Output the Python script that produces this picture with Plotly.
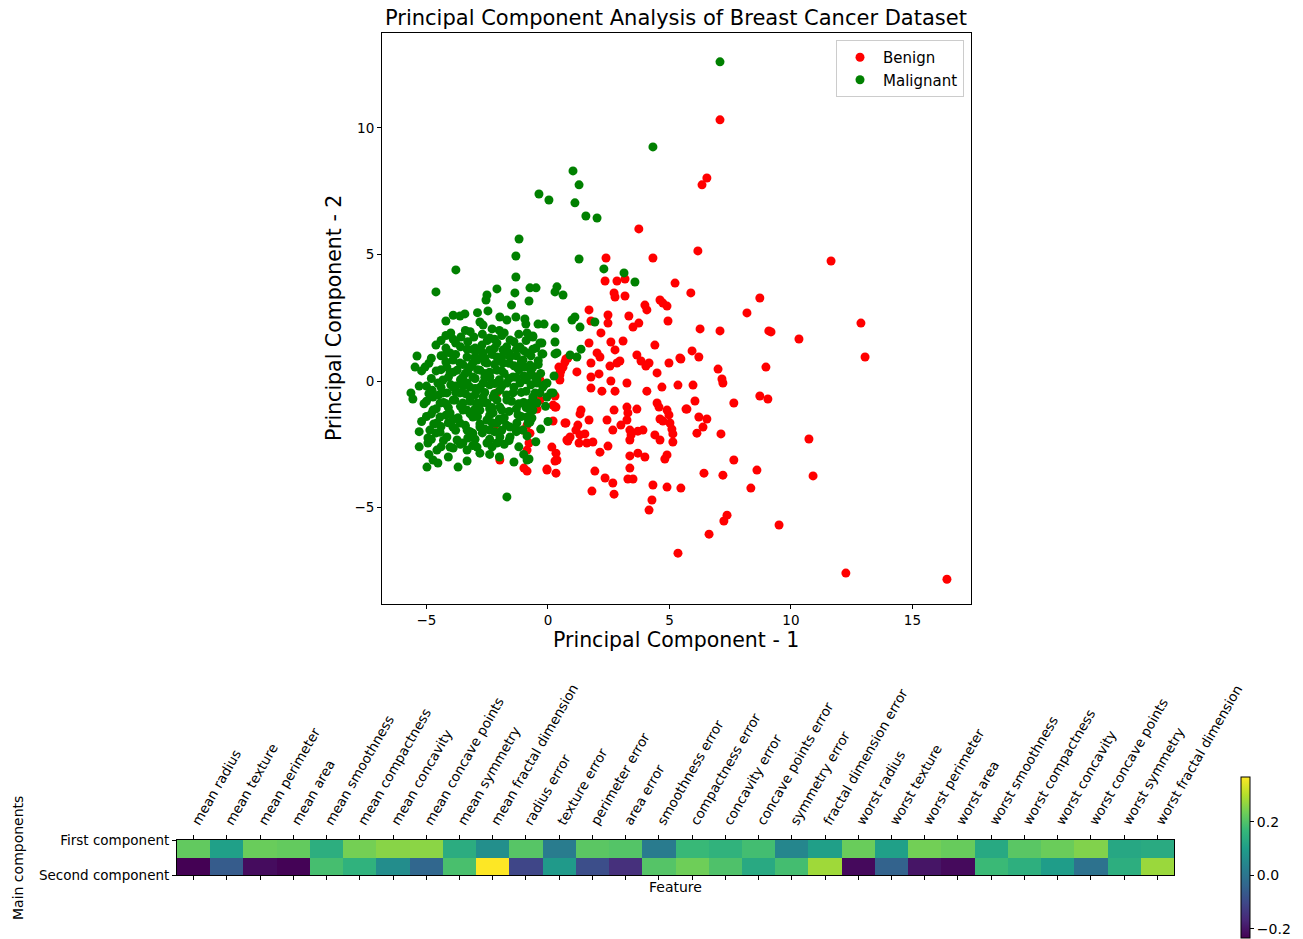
import plotly.graph_objects as go

# ---- PCA scores (PC1, PC2) per class ----
benign_points = [
    (7.08, 10.32), (6.54, 8.02), (6.34, 7.75), (3.74, 6.01), (6.17, 5.14), (2.39, 4.86), (4.32, 4.86),
    (11.65, 4.74), (2.35, 3.95), (2.84, 3.95), (3.17, 4.03), (5.23, 3.87), (5.88, 3.48), (2.72, 3.48),
    (2.76, 3.32), (3.17, 3.36), (3.99, 3.00), (4.07, 2.81), (4.61, 3.20), (4.73, 3.08), (4.90, 2.96),
    (1.69, 2.81), (2.47, 2.61), (1.77, 2.37), (2.47, 2.29), (3.33, 2.57), (3.74, 2.29), (3.50, 2.13),
    (4.94, 2.37), (6.26, 2.06), (2.18, 1.90), (1.69, 1.50), (2.59, 1.54), (3.09, 1.58), (2.76, 1.23),
    (4.40, 1.42), (2.02, 1.11), (2.14, 0.95), (3.66, 1.03), (3.83, 0.79), (4.03, 0.59), (4.16, 0.71),
    (5.43, 0.91), (5.93, 1.19), (6.21, 0.95), (4.98, 0.71), (7.00, 0.47), (0.82, 0.91), (0.70, 0.75),
    (0.62, 0.55), (0.53, 0.40), (0.49, 0.24), (1.19, 0.36), (1.77, 0.71), (2.55, 0.59), (2.84, 0.71),
    (2.96, 0.79), (2.10, 0.28), (1.77, 0.16), (4.49, 0.32), (3.25, -0.08), (2.59, 0.00), (1.77, -0.28),
    (2.22, -0.40), (2.76, -0.40), (4.07, -0.40), (4.69, -0.24), (5.35, -0.16), (5.97, -0.16),
    (0.29, -0.59), (0.29, -1.03), (1.36, -1.15), (1.32, -1.30), (2.72, -1.15), (3.25, -1.03),
    (3.29, -1.26), (3.66, -1.11), (4.49, -0.87), (4.57, -1.03), (4.90, -1.15), (4.98, -1.34),
    (4.61, -1.50), (4.73, -1.58), (5.02, -1.66), (5.10, -1.90), (5.14, -2.09), (5.72, -1.11),
    (6.05, -0.79), (6.21, -1.42), (6.54, -1.50), (6.38, -1.82), (6.13, -2.06), (0.21, -1.58),
    (0.74, -1.66), (1.69, -1.54), (2.43, -1.54), (1.23, -1.74), (1.15, -1.94), (1.32, -2.13),
    (0.91, -2.21), (0.82, -2.37), (1.28, -2.45), (1.60, -2.45), (1.85, -2.41), (1.52, -2.09),
    (2.67, -1.94), (3.00, -1.74), (3.25, -1.54), (3.37, -1.94), (3.42, -2.13), (3.37, -2.33),
    (3.70, -1.98), (3.91, -1.94), (4.40, -2.13), (4.61, -2.33), (5.14, -2.41), (2.14, -2.81),
    (2.47, -2.57), (3.37, -2.96), (3.70, -2.85), (3.99, -3.00), (4.90, -2.92), (4.81, -3.08),
    (0.33, -2.85), (0.29, -3.16), (-0.04, -3.52), (0.33, -3.64), (1.93, -3.56), (2.35, -3.83),
    (2.67, -4.03), (3.37, -3.44), (3.29, -3.87), (3.50, -3.87), (4.32, -4.11), (4.90, -4.19),
    (5.47, -4.23), (6.42, -3.64), (1.81, -4.35), (2.72, -4.47), (4.28, -4.70), (4.16, -5.10),
    (-1.03, -1.94), (-0.78, -2.45), (-0.86, -2.73), (-0.99, -3.44), (-0.86, -3.56), (0.45, 0.55),
    (0.74, 0.87), (0.49, 0.32), (0.49, 0.04), (-0.45, 0.16), (-0.33, 0.04), (-2.10, -0.47),
    (0.21, -0.95), (0.33, -1.03), (-0.33, -0.75), (-0.45, -1.11), (0.70, -1.66), (-0.86, -1.74),
    (-0.74, -2.06), (-2.18, -1.94), (-1.98, -3.12), (-0.04, -3.48), (0.37, -3.12), (0.78, -2.33),
    (0.16, -2.61), (8.72, 3.28), (8.19, 2.69), (7.08, 1.98), (9.09, 1.98), (9.18, 1.94),
    (10.33, 1.66), (12.88, 2.29), (13.05, 0.95), (5.47, 0.87), (8.97, 0.55), (7.16, 0.08),
    (7.20, -0.08), (8.72, -0.59), (9.05, -0.71), (7.65, -0.87), (5.68, -1.11), (7.12, -2.09),
    (10.74, -2.29), (7.65, -3.12), (7.20, -3.72), (8.60, -3.52), (10.91, -3.75), (8.35, -4.23),
    (7.37, -5.30), (7.24, -5.53), (9.51, -5.69), (6.63, -6.05), (5.35, -6.80), (12.26, -7.59),
    (16.42, -7.83),
]

malignant_points = [
    (7.08, 12.61), (4.32, 9.25), (1.03, 8.30), (1.28, 7.75), (-0.37, 7.39), (0.04, 7.15), (1.11, 7.04),
    (1.56, 6.52), (2.02, 6.44), (1.28, 4.82), (2.30, 4.43), (3.13, 4.27), (3.58, 3.91), (-1.19, 5.61),
    (-1.32, 4.94), (-3.79, 4.39), (-1.32, 4.11), (-4.61, 3.52), (-2.10, 3.64), (-2.51, 3.40),
    (-2.55, 3.20), (-1.36, 3.48), (-0.74, 3.68), (-0.49, 3.68), (-0.78, 3.16), (0.37, 3.72),
    (0.29, 3.52), (0.62, 3.40), (-2.47, 2.77), (-2.80, 2.33), (-3.42, 2.65), (-3.62, 2.57),
    (-4.20, 2.37), (-1.98, 2.53), (-1.69, 2.41), (-1.32, 2.53), (-0.95, 2.45), (-0.91, 2.25),
    (-0.41, 2.25), (-0.16, 2.25), (0.29, 2.09), (-2.30, 2.06), (-2.67, 2.21), (0.99, 2.41),
    (1.11, 2.53), (1.32, 2.13), (1.93, 2.33), (-0.62, 1.78), (-0.33, 1.50), (0.29, 1.54),
    (1.36, 1.26), (0.91, 1.03), (1.19, 0.95), (-0.25, 1.07), (0.29, 1.07), (-0.74, 0.63),
    (-0.95, 0.55), (0.25, 0.20), (-0.53, 0.16), (-0.45, -0.08), (-0.16, -0.16), (0.12, -0.47),
    (-0.53, -0.47), (-0.62, -0.87), (-0.74, -1.15), (-0.86, -1.42), (-0.74, -1.62), (-0.86, -2.17),
    (-0.78, -3.08), (-1.69, -4.58), (-5.39, 0.99), (-5.47, 0.55), (-5.06, 0.55), (-4.61, 1.42),
    (-5.64, -0.47), (-5.56, -0.71),
    (-3.58, 1.74), (-3.05, 1.74), (-2.72, 1.42), (-4.03, 1.11), (-3.91, 0.83), (-3.33, 1.26),
    (-2.10, 1.50), (-1.56, 1.62), (-0.86, 1.90), (-0.62, 1.74), (-0.25, 1.50), (0.37, 1.11),
    (-0.21, 1.07), (-0.62, 1.26), (-1.03, 0.83), (-1.28, 0.55), (-0.62, 0.55), (-0.86, 0.16),
    (-0.45, 0.04), (-0.04, -0.08), (0.21, -0.47), (-0.21, -0.24), (-0.62, -0.63), (-0.74, -0.87),
    (-0.62, -1.15), (-1.23, -1.34), (-1.28, -1.66), (-1.56, -1.82), (-1.85, -1.54), (-2.10, -1.66),
    (-2.39, -1.94), (-1.98, -2.21), (-2.51, -2.45), (-2.92, -2.61), (-2.10, -2.45), (-2.80, -2.85),
    (-3.33, -2.73), (-3.50, -2.45), (-4.03, -2.61), (-4.57, -2.73), (-4.73, -3.12), (-4.53, -3.24),
    (-4.98, -3.40), (-3.33, -3.16), (-4.44, -2.02), (-4.86, -1.94), (-4.94, -2.25), (-4.94, -2.45),
    (-4.73, -1.15), (-4.44, -1.42), (-4.03, -1.26), (-4.73, -0.63), (-4.77, -0.36), (-4.53, -0.08),
    (-4.32, 0.04), (-4.03, 0.32), (-3.74, 0.43), (-4.16, 0.55), (-3.91, -0.24), (-4.16, -0.47),
    (-3.83, -0.75), (-3.50, -0.87), (-3.21, -0.63), (-2.92, -0.36), (-2.67, -0.08), (-2.39, 0.16),
    (-2.10, 0.43), (-1.85, 0.71), (-1.56, 0.95), (-2.51, 0.71), (-2.80, 0.43), (-3.09, 0.16),
    (-3.33, -0.08), (-3.62, -0.47), (-3.33, -1.15), (-3.09, -1.42), (-2.80, -1.15), (-2.51, -0.87),
    (-2.26, -0.63), (-1.98, -0.36), (-1.69, -0.08), (-1.44, 0.16), (-1.15, -0.08), (-1.44, -0.47),
    (-1.69, -0.75), (-1.98, -1.03), (-2.26, -1.26), (-2.51, -1.54), (-2.80, -1.82), (-3.09, -2.06),
    (-3.33, -1.94), (-3.62, -1.66), (-3.91, -1.82), (-2.92, -0.87), (-2.67, -0.63), (-3.21, -0.24),
    (-3.50, 0.16), (-3.21, 0.55), (-2.92, 0.83), (-2.67, 1.11), (-2.39, 1.23), (-2.10, 0.95),
    (-1.85, 1.23), (-1.15, 1.34), (-0.86, 1.11), (-2.92, 1.23), (-3.33, 0.95), (-3.62, 0.71),
    (-4.32, -0.47), (-4.44, -0.87), (-4.57, -1.66), (-4.16, -2.21), (-3.74, -2.33), (-1.56, -2.21),
    (-1.28, -1.94), (-1.03, -1.94), (-0.82, -1.66), (-0.66, -1.46), (-0.45, -0.87), (-0.33, -0.47),
    (-0.04, -0.63), (-0.86, -3.12),
    (-3.0, -0.3), (-2.6, 0.3), (-2.2, -0.1), (-1.8, 0.3), (-1.4, 0.6), (-1.0, 0.2), (-0.9, -0.4),
    (-1.2, -0.9), (-1.6, -1.2), (-2.0, -1.5), (-2.4, -1.1), (-2.8, -0.9), (-3.2, -1.3), (-3.6, -1.0),
    (-3.9, -1.5), (-4.2, -0.9), (-3.8, -0.2), (-3.4, 0.3), (-2.0, 0.8), (-1.6, 1.1), (-2.4, 1.7),
    (-3.0, 1.3), (-3.8, 1.5), (-4.4, 1.0), (-4.6, 0.4), (-5.0, -0.2), (-5.1, -0.9), (-5.2, -1.6),
    (-4.8, -1.3), (-4.4, -1.8), (-3.6, -2.5), (-3.0, -2.3), (-2.6, -1.9), (-2.2, -2.0), (-1.8, -2.5),
    (-1.2, -2.6), (-1.0, -2.9), (-1.4, -3.2), (-2.0, -3.0), (-2.4, -2.9), (-3.7, -3.4), (-4.1, -3.0),
    (-4.9, -2.9), (-5.3, -2.6), (-4.8, 0.9), (-4.2, 1.8), (-3.4, 2.0), (-2.0, 2.0), (-1.0, 1.2),
    (-0.4, 0.8), (-0.3, 0.3), (-0.1, -1.0), (-0.3, -1.9), (-0.5, -2.4), (0.0, -1.6), (-2.9, 2.7),
    (-3.9, 2.6), (-1.5, 3.0), (-1.9, 1.8), (-2.6, 0.9),
    (-4.0, 1.9), (-3.2, 1.95), (-2.7, 1.85), (-1.8, 1.9), (-1.2, 1.85),
    (-4.4, 1.6), (-3.9, 1.65), (-3.3, 1.55), (-2.5, 1.6), (-2.2, 1.65), (-1.4, 1.55), (-0.9, 1.6),
    (-4.2, 1.3), (-3.6, 1.35), (-3.1, 1.25), (-2.2, 1.3), (-1.7, 1.35), (-1.3, 1.25), (-0.5, 1.3),
    (-4.3, 1.0), (-3.8, 1.05), (-3.0, 0.95), (-2.7, 1.0), (-2.3, 1.05), (-1.9, 0.95), (-1.3, 1.0),
    (-0.7, 1.0), (-4.9, 0.7), (-4.2, 0.75), (-3.5, 0.65), (-3.1, 0.7), (-2.6, 0.75), (-2.2, 0.65),
    (-1.6, 0.7), (-1.1, 0.75), (-0.4, 0.65), (-5.2, 0.4), (-4.4, 0.45), (-3.9, 0.35), (-3.3, 0.4),
    (-2.9, 0.45), (-2.4, 0.35), (-1.9, 0.4), (-1.2, 0.45), (-0.7, 0.35), (-4.8, 0.1), (-4.1, 0.15),
    (-3.6, 0.05), (-3.0, 0.1), (-2.6, 0.15), (-2.0, 0.05), (-1.6, 0.1), (-1.3, 0.15), (-0.9, 0.05),
    (-5.3, -0.2), (-4.4, -0.25), (-4.0, -0.15), (-3.5, -0.2), (-2.8, -0.25), (-2.4, -0.15),
    (-1.9, -0.2), (-1.4, -0.25), (-0.7, -0.15), (-4.9, -0.5), (-4.5, -0.55), (-3.8, -0.45),
    (-3.4, -0.5), (-3.0, -0.55), (-2.6, -0.45), (-2.2, -0.5), (-1.7, -0.55), (-1.1, -0.45),
    (-5.0, -0.8), (-4.3, -0.85), (-3.9, -0.75), (-3.2, -0.8), (-2.7, -0.85), (-2.1, -0.75),
    (-1.5, -0.8), (-1.0, -0.85), (-4.6, -1.1), (-4.1, -1.05), (-3.5, -1.15), (-3.0, -1.1),
    (-2.3, -1.05), (-1.9, -1.15), (-1.3, -1.1), (-0.9, -1.05), (-5.0, -1.4), (-4.2, -1.35),
    (-3.7, -1.45), (-2.9, -1.4), (-2.4, -1.35), (-1.8, -1.45), (-1.1, -1.4), (-4.7, -1.7),
    (-4.1, -1.65), (-3.4, -1.75), (-2.8, -1.7), (-2.3, -1.65), (-1.7, -1.75), (-5.3, -2.0),
    (-4.6, -2.05), (-3.8, -1.95), (-3.2, -2.0), (-2.7, -2.05), (-1.9, -1.95), (-1.3, -2.0),
    (-4.8, -2.3), (-4.3, -2.35), (-3.3, -2.25), (-2.4, -2.3), (-1.6, -2.35), (-4.4, -2.6),
    (-3.9, -2.65), (-3.1, -2.55), (-2.3, -2.6),
]

benign_pc1 = [p[0] for p in benign_points]
benign_pc2 = [p[1] for p in benign_points]
malignant_pc1 = [p[0] for p in malignant_points]
malignant_pc2 = [p[1] for p in malignant_points]

# ---- PCA component loadings ----
feature_names = [
    "mean radius", "mean texture", "mean perimeter", "mean area", "mean smoothness",
    "mean compactness", "mean concavity", "mean concave points", "mean symmetry",
    "mean fractal dimension", "radius error", "texture error", "perimeter error", "area error",
    "smoothness error", "compactness error", "concavity error", "concave points error",
    "symmetry error", "fractal dimension error", "worst radius", "worst texture",
    "worst perimeter", "worst area", "worst smoothness", "worst compactness", "worst concavity",
    "worst concave points", "worst symmetry", "worst fractal dimension",
]
first_component = [
    0.219, 0.104, 0.228, 0.221, 0.143, 0.239, 0.258, 0.261, 0.138, 0.064,
    0.206, 0.017, 0.211, 0.203, 0.015, 0.170, 0.154, 0.183, 0.042, 0.103,
    0.228, 0.104, 0.237, 0.225, 0.128, 0.210, 0.229, 0.251, 0.123, 0.132,
]
second_component = [
    -0.234, -0.060, -0.215, -0.231, 0.186, 0.152, 0.060, -0.035, 0.190, 0.367,
    -0.106, 0.090, -0.089, -0.152, 0.204, 0.233, 0.197, 0.130, 0.184, 0.280,
    -0.220, -0.045, -0.200, -0.219, 0.172, 0.144, 0.098, -0.008, 0.142, 0.275,
]
component_names = ["First component", "Second component"]

FONT = "DejaVu Sans"
W, H = 1303, 939


def px(x):
    return x / W


def py(y):
    return 1 - y / H


fig = go.Figure()

fig.add_trace(go.Scatter(
    x=benign_pc1, y=benign_pc2, mode="markers", name="Benign",
    marker=dict(color="#ff0000", size=9, line=dict(width=0)),
    xaxis="x", yaxis="y",
))
fig.add_trace(go.Scatter(
    x=malignant_pc1, y=malignant_pc2, mode="markers", name="Malignant",
    marker=dict(color="#008000", size=9, line=dict(width=0)),
    xaxis="x", yaxis="y",
))

fig.add_trace(go.Heatmap(
    z=[first_component, second_component],
    x=list(range(len(feature_names))),
    y=[0, 1],
    colorscale="Viridis",
    xaxis="x2", yaxis="y2",
    showscale=True,
    colorbar=dict(
        x=px(1241), xanchor="left", xpad=0,
        y=py(857.5), yanchor="middle", ypad=0,
        len=161, lenmode="pixels", thickness=9,
        outlinecolor="black", outlinewidth=1,
        tickvals=[-0.2, 0.0, 0.2], ticktext=["\u22120.2", "0.0", "0.2"],
        ticks="outside", ticklen=4, tickcolor="black",
        tickfont=dict(family=FONT, size=14, color="black"),
    ),
))

axis_common = dict(
    showgrid=False, zeroline=False, showline=True, linecolor="black", linewidth=1,
    ticks="outside", ticklen=4, tickcolor="black", automargin=False,
    tickfont=dict(family=FONT, size=13.5, color="black"),
)

fig.update_layout(
    width=W, height=H, autosize=False,
    margin=dict(l=0, r=0, t=0, b=0, pad=0, autoexpand=False),
    paper_bgcolor="white", plot_bgcolor="white",
    font=dict(family=FONT, color="black"),
    xaxis=dict(axis_common, domain=[px(382), px(971)], range=[-6.83, 17.41],
               tickvals=[-5, 0, 5, 10, 15], mirror=True, anchor="y"),
    yaxis=dict(axis_common, domain=[py(604), py(33)], range=[-8.81, 13.75],
               tickvals=[-5, 0, 5, 10], mirror=True, anchor="x"),
    xaxis2=dict(axis_common, domain=[px(177), px(1174)], range=[-0.5, 29.5],
                side="top", tickvals=list(range(len(feature_names))), ticktext=feature_names,
                tickangle=-60, mirror="ticks", anchor="y2"),
    yaxis2=dict(axis_common, domain=[py(875), py(840)], range=[1, 0],
                tickvals=[0, 1], ticktext=component_names, mirror=True, anchor="x2"),
    legend=dict(
        x=px(964), xanchor="right", y=py(40), yanchor="top",
        bordercolor="#cccccc", borderwidth=1, bgcolor="white",
        font=dict(family=FONT, size=15, color="black"),
        itemwidth=36,
    ),
    showlegend=True,
)

annotations = [
    dict(text="Principal Component Analysis of Breast Cancer Dataset", x=px(676), y=py(18),
         font=dict(size=21)),
    dict(text="Principal Component - 1", x=px(676), y=py(640), font=dict(size=20.5)),
    dict(text="Principal Component - 2", x=px(334), y=py(318), font=dict(size=20.5), textangle=-90),
    dict(text="Feature", x=px(675), y=py(887), font=dict(size=14)),
    dict(text="Main components", x=px(18), y=py(858), font=dict(size=14), textangle=-90),
]
for a in annotations:
    a.update(xref="paper", yref="paper", showarrow=False, xanchor="center", yanchor="middle")
    a["font"].update(family=FONT, color="black")
fig.update_layout(annotations=annotations)

fig.write_html("out.html")
